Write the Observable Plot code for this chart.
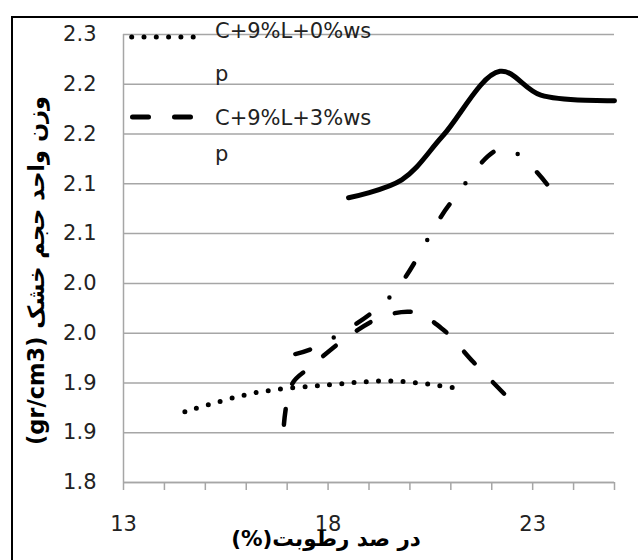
<!DOCTYPE html>
<html>
<head>
<meta charset="utf-8">
<script src="https://cdn.jsdelivr.net/npm/d3@7"></script>
<script src="https://cdn.jsdelivr.net/npm/@observablehq/plot@0.6"></script>
<style>
  html, body { margin: 0; padding: 0; background: #fff; overflow: hidden; }
  #wrap { position: relative; width: 638px; height: 560px; overflow: hidden; }
  #border { position: absolute; left: 11px; top: 16px; width: 700px; height: 700px; border: 2px solid #000; box-sizing: border-box; }
  #chart { position: absolute; left: 0; top: 0; }
  #legend { position: absolute; left: 0; top: 0; }
</style>
</head>
<body>
<div id="wrap">
  <div id="border"></div>
  <div id="chart"></div>
  <svg id="legend" width="638" height="200"></svg>
</div>
<script>
// ---- data ----
const dottedX = [14.5, 16.2, 18.0, 19.6, 21.1];
const dottedY = [1.871, 1.890, 1.898, 1.902, 1.895];

const dashedX = [16.92, 17.12, 17.6, 18.4, 19.3, 20.1, 20.8, 21.55, 22.33];
const dashedY = [1.858, 1.899, 1.917, 1.944, 1.966, 1.971, 1.954, 1.921, 1.888];

const dashDotX = [17.2, 17.7, 19.5, 21.0, 22.3, 23.4];
const dashDotY = [1.929, 1.936, 1.986, 2.081, 2.136, 2.097];

const solidX = [18.5, 19.8, 20.8, 22.2, 23.2, 25.0];
const solidY = [2.086, 2.104, 2.148, 2.213, 2.189, 2.1835];

const yTicks = [1.80, 1.85, 1.90, 1.95, 2.00, 2.05, 2.10, 2.15, 2.20, 2.25];
const yTickLabels = ["1.8", "1.9", "1.9", "2.0", "2.0", "2.1", "2.1", "2.2", "2.2", "2.3"];
const xTicks = [13, 14, 15, 16, 17, 18, 19, 20, 21, 22, 23, 24, 25];
const xLabelTicks = [13, 18, 23];

const legendLabels = [["C+9%L+0%ws", "p"], ["C+9%L+3%ws", "p"]];
const yTitle = "(gr/cm3) وزن واحد حجم خشک";
const xTitle = "(%)در صد رطوبت";

// ---- build ----
const toRows = (xs, ys) => xs.map((x, i) => ({x, y: ys[i]}));
const dotted = toRows(dottedX, dottedY);
const dashed = toRows(dashedX, dashedY);
const dashDot = toRows(dashDotX, dashDotY);
const solid = toRows(solidX, solidY);

const GRID = "#a6a6a6";
const FONT = "DejaVu Sans, sans-serif";
const TXT = "#222";

const chart = Plot.plot({
  width: 638,
  height: 560,
  marginLeft: 123,
  marginRight: 24,
  marginTop: 34,
  marginBottom: 78,
  style: {fontFamily: FONT, fontSize: "21px", color: TXT, background: "transparent", overflow: "visible"},
  x: {domain: [13, 25]},
  y: {domain: [1.8, 2.25]},
  marks: [
    Plot.gridY(yTicks, {stroke: GRID, strokeOpacity: 1, strokeWidth: 1.5}),
    Plot.ruleX([13], {stroke: GRID, strokeWidth: 1.5}),
    Plot.ruleY([1.8], {stroke: GRID, strokeWidth: 1.5}),
    Plot.axisX(xTicks, {tickSize: 8, stroke: GRID, strokeWidth: 1.5, tickFormat: () => "", label: null}),
    Plot.axisX(xLabelTicks, {tickSize: 0, tickPadding: 34, tickFormat: d => String(d), label: null, fill: TXT, fontSize: 21}),
    Plot.axisY(yTicks, {tickSize: 0, tickPadding: 27, label: null, fill: TXT, fontSize: 21,
      tickFormat: d => yTickLabels[Math.round((d - 1.8) / 0.05)]}),
    Plot.line(solid, {x: "x", y: "y", curve: "catmull-rom", stroke: "#000", strokeWidth: 5, strokeLinecap: "round"}),
    Plot.line(dashDot, {x: "x", y: "y", curve: "catmull-rom", stroke: "#000", strokeWidth: 4.5,
      strokeLinecap: "round", strokeDasharray: "15.5 26.6 0 26.6"}),
    Plot.line(dashed, {x: "x", y: "y", curve: "catmull-rom", stroke: "#000", strokeWidth: 4.5,
      strokeLinecap: "round", strokeDasharray: "16 26"}),
    Plot.line(dotted, {x: "x", y: "y", curve: "catmull-rom", stroke: "#000", strokeWidth: 5,
      strokeLinecap: "round", strokeDasharray: "0 12.3"}),
    Plot.text([yTitle], {frameAnchor: "left", dx: -87, dy: 12, rotate: -90, fontWeight: "bold",
      fontSize: 22.5, fill: "#000", textAnchor: "middle"}),
    Plot.text([xTitle], {frameAnchor: "bottom", dx: -43, dy: 63, fontWeight: "bold",
      fontSize: 21.5, fill: "#000", textAnchor: "middle"})
  ]
});
document.getElementById("chart").appendChild(chart);

// ---- legend (inside plot area, top-left) ----
const lg = d3.select("#legend");
const styles = [
  {dash: "0 12.3", y: 37, start: 131.7},
  {dash: "16 26", y: 117, start: 132.5}
];
legendLabels.forEach((lines, i) => {
  const s = styles[i];
  lg.append("line")
    .attr("x1", s.start).attr("x2", 196).attr("y1", s.y).attr("y2", s.y)
    .attr("stroke", "#000").attr("stroke-width", 5)
    .attr("stroke-linecap", "round").attr("stroke-dasharray", s.dash);
  const baselines = i === 0 ? [38, 81] : [125, 161];
  lines.forEach((t, j) => {
    lg.append("text").attr("x", 215).attr("y", baselines[j])
      .attr("font-family", FONT).attr("font-size", 21).attr("fill", TXT).text(t);
  });
});
</script>
</body>
</html>
